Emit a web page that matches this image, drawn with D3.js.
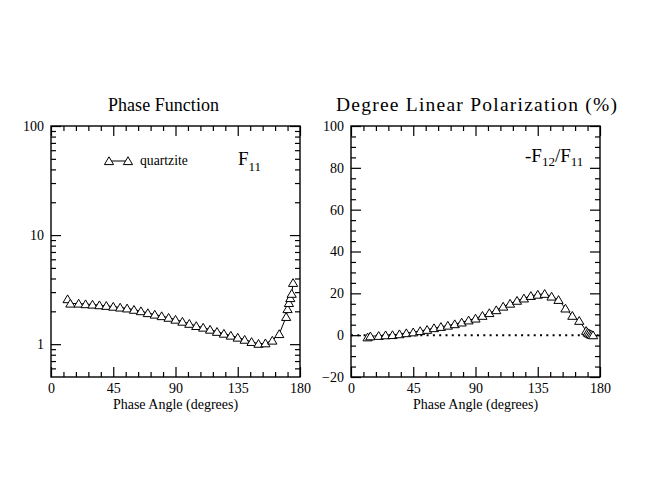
<!DOCTYPE html>
<html><head><meta charset="utf-8">
<script src="https://cdn.jsdelivr.net/npm/d3@7"></script>
<style>
body{margin:0;background:#fff}
text{font-family:"Liberation Serif","Times New Roman",serif;fill:#000}
</style>
</head><body><svg id="c" width="650" height="502"></svg>
<script>
const angles = [12,14,20,25,30,35,40,45,50,55,60,65,70,75,80,85,90,95,100,105,110,115,120,125,130,135,140,145,150,155,160,165,170,171,172,173,174,175];
const f11 = [2.59,2.36,2.36,2.33,2.31,2.28,2.25,2.21,2.17,2.13,2.07,2.01,1.93,1.87,1.81,1.75,1.68,1.61,1.54,1.47,1.42,1.36,1.30,1.25,1.20,1.15,1.10,1.05,1.01,1.02,1.08,1.24,1.78,2.10,2.39,2.65,2.90,3.65];
const dlp = [-1.0,-0.5,-0.3,0,0.1,0.5,1.0,1.4,2.0,2.6,3.4,4.0,4.6,5.3,6.1,7.1,8.0,9.3,10.6,12.0,13.7,15.1,16.5,17.6,18.8,19.4,19.8,18.5,16.9,12.8,9.3,6.9,2.1,1.3,0.9,0.5,0.2,0];
const xTicks = [0,45,90,135,180];
const xMinor = d3.range(0,181,9).filter(v=>v%45!==0);
const f11Ticks = [1,10,100];
const f11Minor = [0.6,0.7,0.8,0.9,2,3,4,5,6,7,8,9,20,30,40,50,60,70,80,90];
const dlpTicks = [-20,0,20,40,60,80,100];
const dlpMinor = d3.range(-20,101,5).filter(v=>v%20!==0);
const sampleName = "quartzite";

const svg = d3.select("#c");
const X0=126, X1=377;

const tri = "M0,-4.2L4.6,3.6L-4.6,3.6Z";

function panel(x, y, yTicks, yMinor, yFmt){
  const g = svg.append("g");
  const [l,r] = x.range();
  const [b,t] = y.range();
  g.append("g").attr("transform",`translate(0,${b})`).call(d3.axisBottom(x).tickValues(xMinor).tickSize(-5).tickFormat(""));
  g.append("g").attr("transform",`translate(0,${t})`).call(d3.axisTop(x).tickValues(xMinor).tickSize(-5).tickFormat(""));
  g.append("g").attr("transform",`translate(${l},0)`).call(d3.axisLeft(y).tickValues(yMinor).tickSize(-5).tickFormat(""));
  g.append("g").attr("transform",`translate(${r},0)`).call(d3.axisRight(y).tickValues(yMinor).tickSize(-5).tickFormat(""));
  g.append("g").attr("class","lab").attr("transform",`translate(0,${b})`).call(d3.axisBottom(x).tickValues(xTicks).tickSize(-10).tickPadding(6).tickFormat(d3.format("d")));
  g.append("g").attr("transform",`translate(0,${t})`).call(d3.axisTop(x).tickValues(xTicks).tickSize(-10).tickFormat(""));
  g.append("g").attr("class","lab").attr("transform",`translate(${l},0)`).call(d3.axisLeft(y).tickValues(yTicks).tickSize(-10).tickPadding(7).tickFormat(yFmt));
  g.append("g").attr("transform",`translate(${r},0)`).call(d3.axisRight(y).tickValues(yTicks).tickSize(-10).tickFormat(""));
  g.selectAll(".domain").remove();
  g.selectAll(".tick line").attr("stroke","#000").attr("stroke-width",1.2);
  g.selectAll(".lab text").attr("font-size",14).attr("font-family","Liberation Serif").attr("fill","#000");
  g.append("rect").attr("x",l).attr("y",t).attr("width",r-l).attr("height",b-t)
    .attr("fill","none").attr("stroke","#000").attr("stroke-width",1.4);
  svg.append("text").attr("x",(l+r)/2).attr("y",409).attr("text-anchor","middle")
    .attr("font-size",14).text("Phase Angle (degrees)");
  return g;
}

function series(x,y,vals){
  const pts = angles.map((a,i)=>[a,vals[i]]);
  svg.append("path").datum(pts)
    .attr("d",d3.line().x(d=>x(d[0])).y(d=>y(d[1])))
    .attr("fill","none").attr("stroke","#000").attr("stroke-width",1);
  svg.append("g").selectAll("path").data(pts).join("path")
    .attr("d",tri).attr("transform",d=>`translate(${x(d[0])},${y(d[1])})`)
    .attr("fill","#fff").attr("stroke","#000").attr("stroke-width",1);
}

// Left panel
const xL = d3.scaleLinear().domain([0,180]).range([51,300]);
const yL = d3.scaleLog().domain([0.5,100]).range([X1,X0]);
panel(xL,yL,f11Ticks,f11Minor,d3.format("d"));
series(xL,yL,f11);
svg.append("text").attr("x",108).attr("y",111).attr("font-size",18)
  .attr("textLength",111).attr("lengthAdjust","spacing").text("Phase Function");
const lg = svg.append("g");
lg.append("line").attr("x1",109).attr("x2",128).attr("y1",161).attr("y2",161).attr("stroke","#000");
[109,128].forEach(px=>lg.append("path").attr("d",tri).attr("transform",`translate(${px},161)`).attr("fill","#fff").attr("stroke","#000"));
lg.append("text").attr("x",140).attr("y",165).attr("font-size",13.7).text(sampleName);
const fl = svg.append("text").attr("x",238).attr("y",165).attr("font-size",19);
fl.append("tspan").text("F");
fl.append("tspan").attr("dy",6).attr("font-size",13).text("11");

// Right panel
const xR = d3.scaleLinear().domain([0,180]).range([351,600]);
const yR = d3.scaleLinear().domain([-20,100]).range([X1,X0]);
panel(xR,yR,dlpTicks,dlpMinor,d3.format("d"));
svg.append("line").attr("x1",xR(0)).attr("x2",xR(180)).attr("y1",yR(0)).attr("y2",yR(0))
  .attr("stroke","#000").attr("stroke-width",2).attr("stroke-dasharray","2,4.3");
series(xR,yR,dlp);
svg.append("text").attr("x",336).attr("y",111).attr("font-size",19.5)
  .attr("textLength",281).attr("lengthAdjust","spacing").text("Degree Linear Polarization (%)");
const fr = svg.append("text").attr("x",525).attr("y",162).attr("font-size",19);
fr.append("tspan").text("-F");
fr.append("tspan").attr("dy",4).attr("font-size",13).text("12");
fr.append("tspan").attr("dy",-4).text("/F");
fr.append("tspan").attr("dy",4).attr("font-size",13).text("11");
</script>
</body></html>
